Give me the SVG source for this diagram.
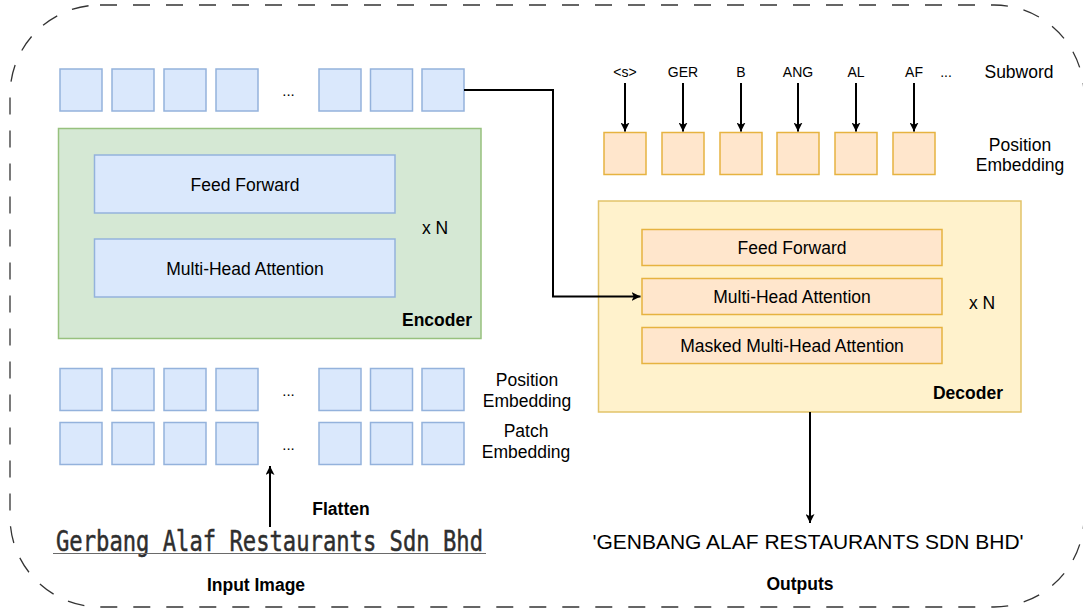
<svg xmlns="http://www.w3.org/2000/svg" width="1083" height="613" viewBox="0 0 1083 613">
<defs>
<marker id="arr" viewBox="0 0 10 10" refX="10" refY="5" markerWidth="4.5" markerHeight="4.5" markerUnits="strokeWidth" orient="auto">
<path d="M0,0 L10,5 L0,10 L2.5,5 Z" fill="#000"/>
</marker>
<style>
.t{font-family:"Liberation Sans",Arial,sans-serif;font-size:17.5px;fill:#000}
.tk{font-family:"Liberation Sans",Arial,sans-serif;font-size:14px;fill:#000;text-anchor:middle}
.c{text-anchor:middle}
.b{font-weight:bold}
.blue{fill:#dae8fc;stroke:#94b2dc;stroke-width:1.5}
.org{fill:#ffe6cc;stroke:#e6b340;stroke-width:1.5}
.grn{fill:#d5e8d4;stroke:#97c17e;stroke-width:1.5}
.yel{fill:#fff2cc;stroke:#e2c36a;stroke-width:1.5}
.ln{fill:none;stroke:#000;stroke-width:2}
</style>
</defs>
<rect x="10" y="5" width="1074" height="602" rx="90" ry="90" fill="none" stroke="#333" stroke-width="1.3" stroke-dasharray="17 16"/>

<g id="encoder-output-tokens">
<rect class="blue" x="60" y="69" width="42" height="42"/>
<rect class="blue" x="112" y="69" width="42" height="42"/>
<rect class="blue" x="164" y="69" width="42" height="42"/>
<rect class="blue" x="216" y="69" width="42" height="42"/>
<text class="t c" x="288.5" y="96" style="font-size:15px">...</text>
<rect class="blue" x="319" y="69" width="42" height="42"/>
<rect class="blue" x="370.5" y="69" width="42" height="42"/>
<rect class="blue" x="422" y="69" width="42" height="42"/>
</g>

<g id="encoder">
<rect class="grn" x="58.5" y="128.5" width="422.5" height="210"/>
<text class="t b" x="472" y="326" text-anchor="end">Encoder</text>
<text class="t" x="422" y="234">x N</text>
</g>
<g id="enc-feed-forward">
<rect class="blue" x="94.5" y="155" width="300.5" height="58"/>
<text class="t c" x="245" y="191">Feed Forward</text>
</g>
<g id="enc-mha">
<rect class="blue" x="94.5" y="239" width="300.5" height="58"/>
<text class="t c" x="245" y="275">Multi-Head Attention</text>
</g>

<g id="enc-position-embedding">
<rect class="blue" x="60" y="368.5" width="42" height="42"/>
<rect class="blue" x="112" y="368.5" width="42" height="42"/>
<rect class="blue" x="164" y="368.5" width="42" height="42"/>
<rect class="blue" x="216" y="368.5" width="42" height="42"/>
<text class="t c" x="288.5" y="396" style="font-size:15px">...</text>
<rect class="blue" x="319" y="368.5" width="42" height="42"/>
<rect class="blue" x="370.5" y="368.5" width="42" height="42"/>
<rect class="blue" x="422" y="368.5" width="42" height="42"/>
<text class="t c" x="527" y="386">Position</text>
<text class="t c" x="527" y="407">Embedding</text>
</g>

<g id="patch-embedding">
<rect class="blue" x="60" y="422.5" width="42" height="42"/>
<rect class="blue" x="112" y="422.5" width="42" height="42"/>
<rect class="blue" x="164" y="422.5" width="42" height="42"/>
<rect class="blue" x="216" y="422.5" width="42" height="42"/>
<text class="t c" x="288.5" y="450" style="font-size:15px">...</text>
<rect class="blue" x="319" y="422.5" width="42" height="42"/>
<rect class="blue" x="370.5" y="422.5" width="42" height="42"/>
<rect class="blue" x="422" y="422.5" width="42" height="42"/>
<text class="t c" x="526" y="437">Patch</text>
<text class="t c" x="526" y="458">Embedding</text>
</g>

<g id="input-image">
<text x="56" y="550.5" textLength="427" lengthAdjust="spacingAndGlyphs" style="font-family:'DejaVu Sans Mono','Liberation Mono',monospace;font-size:29px;fill:#2e2e2e;stroke:#2e2e2e;stroke-width:0.5">Gerbang Alaf Restaurants Sdn Bhd</text>
<line x1="53" y1="553.5" x2="486" y2="553.5" stroke="#6a6a6a" stroke-width="1.2"/>
<text class="t b c" x="256" y="591">Input Image</text>
</g>

<g id="subwords">
<text class="tk" x="625" y="77">&lt;s&gt;</text>
<text class="tk" x="683" y="77">GER</text>
<text class="tk" x="741" y="77">B</text>
<text class="tk" x="798" y="77">ANG</text>
<text class="tk" x="856" y="77">AL</text>
<text class="tk" x="914" y="77">AF</text>
<text class="tk" x="946" y="77">...</text>
<text class="t c" x="1019" y="78">Subword</text>
</g>

<g id="dec-position-embedding">
<rect class="org" x="604" y="132.5" width="42" height="42"/>
<rect class="org" x="662" y="132.5" width="42" height="42"/>
<rect class="org" x="720" y="132.5" width="42" height="42"/>
<rect class="org" x="777" y="132.5" width="42" height="42"/>
<rect class="org" x="835" y="132.5" width="42" height="42"/>
<rect class="org" x="893" y="132.5" width="42" height="42"/>
<text class="t c" x="1020" y="151">Position</text>
<text class="t c" x="1020" y="171">Embedding</text>
</g>

<g id="decoder">
<rect class="yel" x="598.5" y="201" width="422.5" height="211"/>
<text class="t b" x="1003" y="399" text-anchor="end">Decoder</text>
<text class="t" x="969" y="309">x N</text>
</g>
<g id="dec-feed-forward">
<rect class="org" x="642" y="229.5" width="300" height="36"/>
<text class="t c" x="792" y="254">Feed Forward</text>
</g>
<g id="dec-mha">
<rect class="org" x="642" y="278.5" width="300" height="36"/>
<text class="t c" x="792" y="303">Multi-Head Attention</text>
</g>
<g id="dec-masked-mha">
<rect class="org" x="642" y="327.5" width="300" height="36"/>
<text class="t c" x="792" y="352">Masked Multi-Head Attention</text>
</g>

<g id="outputs">
<text x="808" y="549" text-anchor="middle" style="font-family:'Liberation Sans',Arial,sans-serif;font-size:21px;fill:#000">'GENBANG ALAF RESTAURANTS SDN BHD'</text>
<text class="t b c" x="800" y="590">Outputs</text>
</g>

<g id="connectors">
<path class="ln" d="M464 90 H553 V296.5 H640.5" marker-end="url(#arr)"/>
<path class="ln" d="M625 83 V131.5" marker-end="url(#arr)"/>
<path class="ln" d="M683 83 V131.5" marker-end="url(#arr)"/>
<path class="ln" d="M741 83 V131.5" marker-end="url(#arr)"/>
<path class="ln" d="M798 83 V131.5" marker-end="url(#arr)"/>
<path class="ln" d="M856 83 V131.5" marker-end="url(#arr)"/>
<path class="ln" d="M914 83 V131.5" marker-end="url(#arr)"/>
<path class="ln" d="M810 412 V523" marker-end="url(#arr)"/>
<path class="ln" d="M270 527 V466" marker-end="url(#arr)"/>
<text class="t b c" x="341" y="515">Flatten</text>
</g>
</svg>
